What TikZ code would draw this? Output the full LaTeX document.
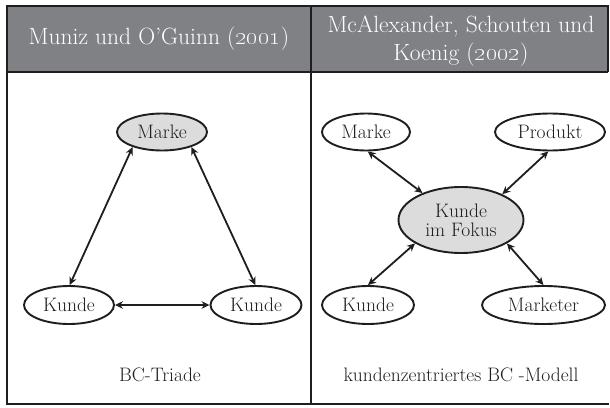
\documentclass[tikz,border=0pt]{standalone}
\usetikzlibrary{shapes.geometric,arrows.meta}
\definecolor{hdrgray}{RGB}{128,129,133}
\definecolor{nodegray}{RGB}{220,220,220}
\definecolor{ink}{RGB}{30,30,30}
\tikzset{
  frameline/.style={draw=ink,line width=1.4pt},
  hdrtext/.style={text=white,font=\fontsize{23.5}{28}\selectfont,align=center,inner sep=0pt},
  ell/.style={ellipse,draw=ink,line width=1.9pt,fill=white,inner sep=0pt,text=ink,
     font=\fontsize{19.5}{19}\selectfont,align=center},
  focus/.style={ell,fill=nodegray},
  link/.style={draw=ink,line width=1.8pt,{Stealth[length=8pt,width=7.5pt]}-{Stealth[length=8pt,width=7.5pt]}},
  captext/.style={text=ink,font=\fontsize{19.5}{20}\selectfont,inner sep=0pt}
}
\begin{document}
\begin{tikzpicture}[x=1pt,y=-1pt]
\useasboundingbox (0,0) rectangle (610,407);
% header
\fill[hdrgray] (7,6) rectangle (608,72);
\coordinate (tl) at (7,6);
\coordinate (tr) at (608,6);
\coordinate (hr) at (608,72);
\coordinate (hl) at (7,72);
\coordinate (bl) at (7,404);
\coordinate (br) at (609,404);
\coordinate (dt) at (311,6);
\coordinate (db) at (311,404);
\draw[frameline] (hr) -- (tr) -- (tl) -- (bl) -- (br);
\draw[frameline] (hl) -- (hr);
\draw[frameline] (dt) -- (db);
\node[hdrtext] (h1) at (159,39) {Muniz und O'Guinn (\oldstylenums{2001})};
\node[hdrtext] (h2) at (461,41) {McAlexander, Schouten und\\Koenig (\oldstylenums{2002})};
% left panel
\node[ell,fill=nodegray,minimum width=90pt,minimum height=37pt] (m1) at (162,132) {Marke};
\node[ell,minimum width=90pt,minimum height=38pt] (k1) at (69,305) {Kunde};
\node[ell,minimum width=91pt,minimum height=38pt] (k2) at (256,305) {Kunde};
\draw[link] (m1.207) -- (k1.88);
\draw[link] (m1.333) -- (k2.92);
\draw[link] (k1.east) -- (k2.west);
\node[captext] (c1) at (160,375) {BC-Triade};
% right panel
\node[ell,minimum width=88pt,minimum height=37pt] (m2) at (366,132) {Marke};
\node[ell,minimum width=110pt,minimum height=37pt] (p2) at (550,132) {Produkt};
\node[focus,minimum width=125pt,minimum height=66pt] (f) at (461,220) {Kunde\\im Fokus};
\node[ell,minimum width=92pt,minimum height=38pt] (k3) at (368,305) {Kunde};
\node[ell,minimum width=123pt,minimum height=38pt] (mk) at (543.5,305) {Marketer};
\draw[link] (m2.-85) -- (f.145);
\draw[link] (p2.-95) -- (f.32);
\draw[link] (k3.90) -- (f.207);
\draw[link] (mk.90) -- (f.333);
\node[captext] (c2) at (461,375) {kundenzentriertes BC -Modell};
\end{tikzpicture}
\end{document}
